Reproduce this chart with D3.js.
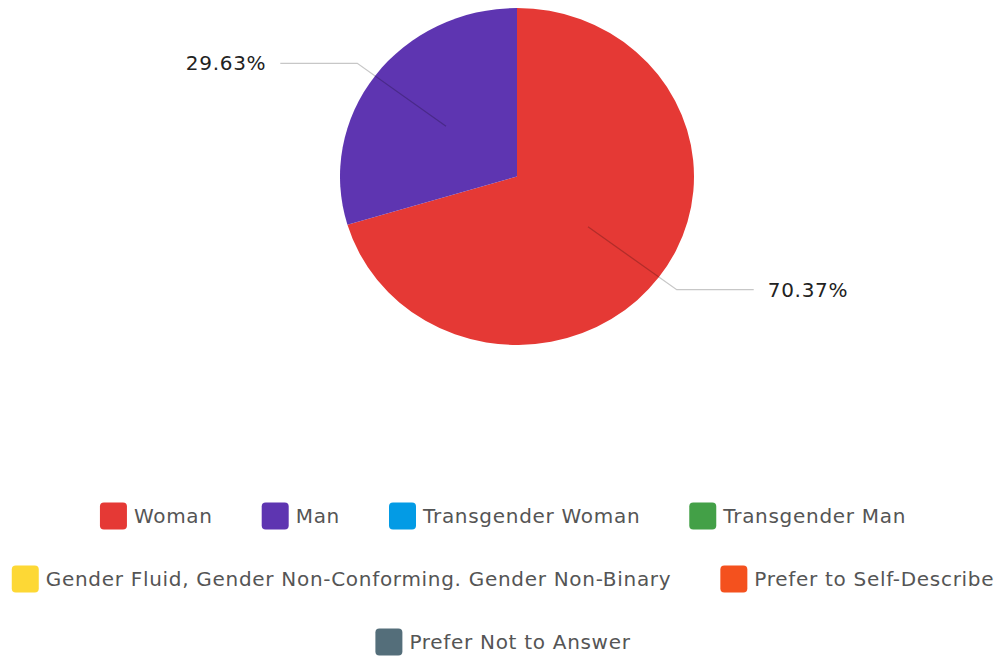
<!DOCTYPE html>
<html>
<head>
<meta charset="utf-8">
<script src="https://cdn.jsdelivr.net/npm/d3@7"></script>
<style>
  body { margin: 0; background: #fff; }
  svg { display: block; font-family: "DejaVu Sans", sans-serif; letter-spacing: 0.7px; }
</style>
</head>
<body>
<svg id="chart" width="1002" height="658"></svg>
<script>
// answer categories and respondent counts
var categories = ["Woman", "Man", "Transgender Woman", "Transgender Man",
  "Gender Fluid, Gender Non-Conforming. Gender Non-Binary",
  "Prefer to Self-Describe", "Prefer Not to Answer"];
var counts = [19, 8, 0, 0, 0, 0, 0];
var colors = ["#e53935", "#5e35b1", "#039be5", "#43a047", "#fdd835", "#f4511e", "#546e7a"];

var svg = d3.select("#chart"),
  width = 1002,
  cx = 517, cy = 176.5,
  radius = 177,
  squash = 0.952;

var total = d3.sum(counts);
var fmt = function(v) { return (v / total * 100).toFixed(2) + "%"; };

var data = categories.map(function(c, i) {
  return { name: c, value: counts[i], color: colors[i] };
});

var pie = d3.pie()
  .sort(null)
  .value(function(d) { return d.value; });

var arcs = pie(data).filter(function(d) { return d.data.value > 0; });

var arc = d3.arc().innerRadius(0).outerRadius(radius);
var inner = d3.arc().innerRadius(radius * 0.5).outerRadius(radius * 0.5);
var outer = d3.arc().innerRadius(radius * 1.125).outerRadius(radius * 1.125);

var g = svg.append("g")
  .attr("transform", "translate(" + cx + "," + cy + ") scale(1," + squash + ")");

g.selectAll("path.slice")
  .data(arcs)
  .enter().append("path")
  .attr("class", "slice")
  .attr("d", arc)
  .style("fill", function(d) { return d.data.color; });

// leader lines, drawn in page coords so the stroke is not squashed
var lines = svg.append("g");
var labels = svg.append("g");
var hLen = 77, gap = 14;

arcs.forEach(function(d) {
  var a = inner.centroid(d), b = outer.centroid(d);
  var p1 = [cx + a[0], cy + a[1] * squash],
    p2 = [cx + b[0], cy + b[1] * squash];
  var right = b[0] > 0;
  var p3 = [p2[0] + (right ? hLen : -hLen), p2[1]];
  lines.append("polyline")
    .attr("points", [p1, p2, p3].map(function(p) { return p.join(","); }).join(" "))
    .style("fill", "none")
    .style("stroke", "rgba(0,0,0,0.22)")
    .style("stroke-width", 1.3);
  labels.append("text")
    .attr("x", p3[0] + (right ? gap : -gap))
    .attr("y", p3[1])
    .attr("dy", "0.36em")
    .attr("text-anchor", right ? "start" : "end")
    .style("font-size", "20px")
    .style("fill", "#222")
    .text(fmt(d.data.value));
});

// legend, wrapped into centred rows
var legend = svg.append("g");
var sw = 27, swGap = 7, itemGap = 49, rowY = [516, 579, 642], maxW = 1000;

var items = data.map(function(d) {
  var it = legend.append("g");
  it.append("rect")
    .attr("width", sw).attr("height", sw)
    .attr("rx", 4).attr("ry", 4)
    .attr("y", -sw / 2)
    .style("fill", d.color);
  var t = it.append("text")
    .attr("x", sw + swGap)
    .attr("dy", "0.36em")
    .style("font-size", "20px")
    .style("fill", "#555")
    .text(d.name);
  return { g: it, w: sw + swGap + t.node().getComputedTextLength() };
});

var rows = [[]], rw = 0;
items.forEach(function(it) {
  var add = rows[rows.length - 1].length ? itemGap + it.w : it.w;
  if (rw + add > maxW && rows[rows.length - 1].length) {
    rows.push([it]);
    rw = it.w;
  } else {
    rows[rows.length - 1].push(it);
    rw += add;
  }
});

rows.forEach(function(row, r) {
  var tw = d3.sum(row, function(it) { return it.w; }) + itemGap * (row.length - 1);
  var x = (width - tw) / 2 + 2;
  row.forEach(function(it) {
    it.g.attr("transform", "translate(" + x + "," + rowY[r] + ")");
    x += it.w + itemGap;
  });
});
</script>
</body>
</html>
